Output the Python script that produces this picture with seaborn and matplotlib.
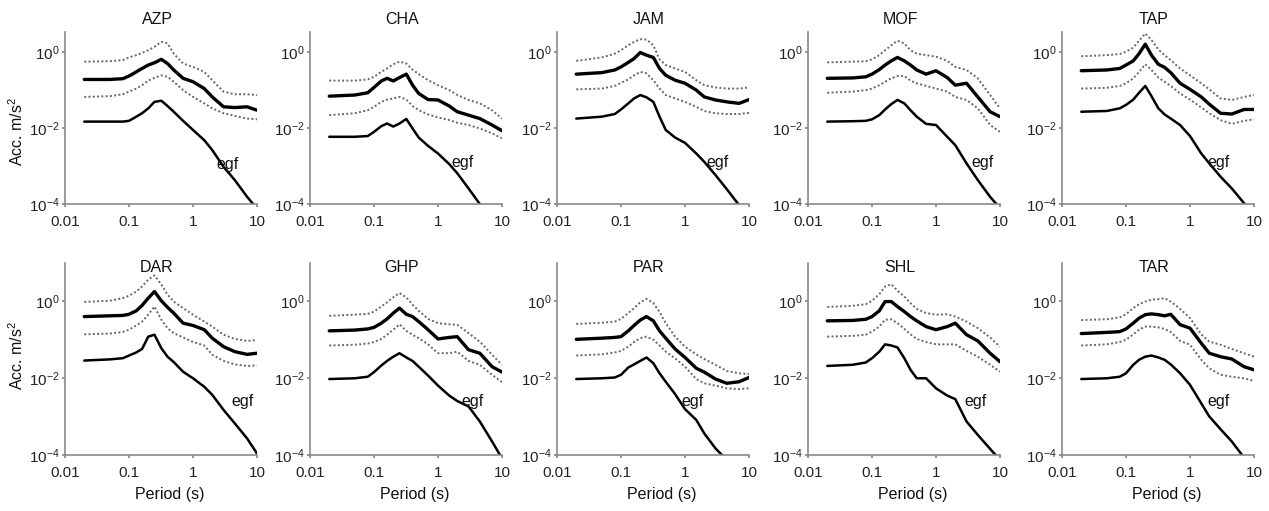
import numpy as np
import matplotlib
matplotlib.use("Agg")
import matplotlib.pyplot as plt
from matplotlib.ticker import NullLocator
import seaborn as sns

PERIOD = [0.02, 0.05, 0.08, 0.1, 0.13, 0.16, 0.2, 0.25, 0.32, 0.4, 0.5,
          0.7, 1.0, 1.5, 2.0, 3.0, 4.5, 7.0, 10.0]

STATIONS = ["AZP", "CHA", "JAM", "MOF", "TAP", "DAR", "GHP", "PAR", "SHL", "TAR"]

# log10 of spectral acceleration (m/s^2): median, +1 sigma, -1 sigma, egf
AZP_MED = [-0.72, -0.72, -0.70, -0.63, -0.52, -0.43, -0.34, -0.28, -0.19, -0.30, -0.47, -0.69, -0.78, -0.96, -1.18, -1.44, -1.46, -1.44, -1.53]
AZP_HI = [-0.25, -0.24, -0.21, -0.14, -0.08, -0.02, 0.05, 0.14, 0.27, 0.23, -0.04, -0.30, -0.39, -0.52, -0.74, -1.04, -1.11, -1.11, -1.13]
AZP_LO = [-1.18, -1.16, -1.11, -1.04, -0.96, -0.87, -0.75, -0.68, -0.61, -0.65, -0.78, -1.00, -1.18, -1.35, -1.48, -1.61, -1.68, -1.75, -1.77]
AZP_EGF = [-1.83, -1.83, -1.83, -1.81, -1.70, -1.61, -1.48, -1.31, -1.28, -1.42, -1.57, -1.81, -2.05, -2.32, -2.58, -3.02, -3.37, -3.81, -4.12]

CHA_MED = [-1.16, -1.13, -1.07, -0.93, -0.76, -0.69, -0.76, -0.67, -0.58, -0.87, -1.09, -1.25, -1.26, -1.42, -1.57, -1.66, -1.75, -1.92, -2.07]
CHA_HI = [-0.75, -0.75, -0.72, -0.65, -0.52, -0.43, -0.32, -0.25, -0.30, -0.46, -0.58, -0.74, -0.87, -1.00, -1.13, -1.26, -1.35, -1.53, -1.75]
CHA_LO = [-1.66, -1.61, -1.53, -1.44, -1.31, -1.25, -1.22, -1.18, -1.25, -1.42, -1.53, -1.64, -1.72, -1.79, -1.86, -1.92, -2.01, -2.14, -2.27]
CHA_EGF = [-2.23, -2.23, -2.21, -2.10, -1.95, -1.88, -1.96, -1.88, -1.76, -2.01, -2.25, -2.47, -2.67, -2.95, -3.19, -3.59, -4.00, -4.42, -4.77]

JAM_MED = [-0.58, -0.54, -0.47, -0.39, -0.27, -0.17, -0.01, -0.08, -0.14, -0.43, -0.61, -0.74, -0.82, -1.00, -1.18, -1.26, -1.31, -1.35, -1.25]
JAM_HI = [-0.23, -0.14, -0.04, 0.05, 0.18, 0.27, 0.34, 0.33, 0.18, -0.19, -0.34, -0.43, -0.52, -0.74, -0.87, -0.93, -0.96, -0.96, -0.93]
JAM_LO = [-0.98, -0.96, -0.89, -0.81, -0.72, -0.61, -0.52, -0.56, -0.74, -0.96, -1.13, -1.22, -1.31, -1.44, -1.55, -1.61, -1.63, -1.63, -1.60]
JAM_EGF = [-1.75, -1.70, -1.63, -1.51, -1.35, -1.22, -1.13, -1.19, -1.31, -1.70, -2.05, -2.25, -2.39, -2.67, -2.89, -3.24, -3.61, -4.03, -4.33]

MOF_MED = [-0.69, -0.68, -0.65, -0.58, -0.46, -0.34, -0.23, -0.14, -0.23, -0.34, -0.47, -0.58, -0.49, -0.67, -0.87, -0.82, -1.18, -1.57, -1.70]
MOF_HI = [-0.27, -0.25, -0.24, -0.19, -0.08, 0.05, 0.18, 0.30, 0.23, 0.05, -0.04, -0.08, -0.12, -0.23, -0.39, -0.47, -0.69, -1.13, -1.48]
MOF_LO = [-1.07, -1.04, -1.00, -0.96, -0.87, -0.78, -0.69, -0.63, -0.63, -0.75, -0.82, -0.89, -0.96, -1.04, -1.18, -1.26, -1.48, -1.92, -2.10]
MOF_EGF = [-1.83, -1.82, -1.81, -1.77, -1.66, -1.51, -1.37, -1.26, -1.35, -1.53, -1.70, -1.89, -1.92, -2.23, -2.45, -2.93, -3.37, -3.81, -4.11]

TAP_MED = [-0.49, -0.47, -0.43, -0.34, -0.23, -0.04, 0.21, -0.08, -0.32, -0.40, -0.54, -0.82, -0.98, -1.18, -1.37, -1.61, -1.63, -1.51, -1.51]
TAP_HI = [-0.11, -0.08, -0.05, 0.01, 0.12, 0.30, 0.49, 0.32, 0.07, -0.08, -0.21, -0.43, -0.61, -0.82, -0.98, -1.22, -1.26, -1.18, -1.13]
TAP_LO = [-0.96, -0.94, -0.89, -0.82, -0.69, -0.52, -0.32, -0.47, -0.67, -0.78, -0.89, -1.09, -1.25, -1.46, -1.61, -1.79, -1.89, -1.81, -1.77]
TAP_EGF = [-1.57, -1.55, -1.48, -1.39, -1.25, -1.07, -0.89, -1.16, -1.48, -1.64, -1.75, -1.92, -2.21, -2.67, -2.93, -3.28, -3.59, -3.98, -4.25]

DAR_MED = [-0.41, -0.39, -0.38, -0.35, -0.26, -0.12, 0.07, 0.24, 0.00, -0.17, -0.32, -0.58, -0.64, -0.75, -0.97, -1.19, -1.32, -1.39, -1.36]
DAR_HI = [-0.03, 0.00, 0.07, 0.13, 0.24, 0.37, 0.55, 0.66, 0.42, 0.16, -0.02, -0.19, -0.36, -0.54, -0.67, -0.88, -0.99, -1.04, -1.02]
DAR_LO = [-0.87, -0.85, -0.81, -0.75, -0.64, -0.54, -0.36, -0.15, -0.49, -0.71, -0.84, -0.95, -1.07, -1.16, -1.40, -1.56, -1.65, -1.69, -1.68]
DAR_EGF = [-1.55, -1.52, -1.49, -1.42, -1.34, -1.25, -0.93, -0.88, -1.23, -1.45, -1.59, -1.84, -2.01, -2.23, -2.44, -2.83, -3.18, -3.57, -3.96]

GHP_MED = [-0.78, -0.76, -0.73, -0.69, -0.58, -0.47, -0.32, -0.19, -0.35, -0.41, -0.54, -0.75, -0.99, -0.95, -0.93, -1.27, -1.36, -1.71, -1.85]
GHP_HI = [-0.39, -0.36, -0.34, -0.28, -0.15, -0.04, 0.09, 0.20, 0.09, -0.10, -0.26, -0.47, -0.58, -0.61, -0.62, -0.84, -1.06, -1.40, -1.66]
GHP_LO = [-1.16, -1.14, -1.11, -1.07, -0.99, -0.88, -0.75, -0.61, -0.78, -0.88, -0.97, -1.13, -1.36, -1.36, -1.32, -1.56, -1.66, -1.92, -2.11]
GHP_EGF = [-2.03, -2.01, -1.97, -1.85, -1.68, -1.56, -1.45, -1.36, -1.47, -1.56, -1.71, -1.94, -2.20, -2.46, -2.60, -2.74, -3.13, -3.65, -4.09]

PAR_MED = [-1.00, -0.97, -0.95, -0.93, -0.78, -0.64, -0.50, -0.41, -0.52, -0.78, -0.97, -1.25, -1.47, -1.75, -1.85, -2.03, -2.14, -2.10, -1.99]
PAR_HI = [-0.60, -0.57, -0.54, -0.47, -0.32, -0.19, -0.04, 0.05, -0.06, -0.29, -0.58, -0.93, -1.19, -1.39, -1.51, -1.66, -1.82, -1.88, -1.90]
PAR_LO = [-1.42, -1.39, -1.34, -1.30, -1.19, -1.07, -0.97, -0.93, -1.01, -1.16, -1.32, -1.49, -1.71, -2.03, -2.14, -2.20, -2.27, -2.29, -2.27]
PAR_EGF = [-2.03, -2.01, -1.99, -1.92, -1.73, -1.65, -1.56, -1.47, -1.62, -1.88, -2.10, -2.42, -2.81, -3.09, -3.44, -3.83, -4.13, -4.52, -4.87]

SHL_MED = [-0.52, -0.51, -0.48, -0.41, -0.26, -0.02, -0.02, -0.15, -0.28, -0.41, -0.52, -0.67, -0.75, -0.67, -0.58, -0.88, -1.04, -1.36, -1.58]
SHL_HI = [-0.16, -0.13, -0.09, 0.00, 0.17, 0.37, 0.43, 0.26, 0.11, -0.06, -0.21, -0.32, -0.36, -0.35, -0.41, -0.54, -0.71, -0.95, -1.19]
SHL_LO = [-0.93, -0.91, -0.88, -0.80, -0.67, -0.49, -0.48, -0.58, -0.73, -0.87, -0.99, -1.07, -1.13, -1.13, -1.13, -1.30, -1.45, -1.66, -1.84]
SHL_EGF = [-1.69, -1.66, -1.60, -1.49, -1.32, -1.13, -1.16, -1.21, -1.49, -1.79, -2.01, -2.01, -2.27, -2.46, -2.55, -3.13, -3.48, -3.84, -4.13]

TAR_MED = [-0.85, -0.82, -0.80, -0.73, -0.58, -0.45, -0.36, -0.34, -0.36, -0.39, -0.35, -0.62, -0.71, -1.10, -1.36, -1.45, -1.51, -1.71, -1.79]
TAR_HI = [-0.50, -0.48, -0.43, -0.35, -0.19, -0.09, -0.02, 0.03, 0.04, 0.07, -0.02, -0.21, -0.45, -0.87, -1.06, -1.14, -1.25, -1.36, -1.45]
TAR_LO = [-1.16, -1.13, -1.07, -1.01, -0.87, -0.75, -0.67, -0.67, -0.69, -0.73, -0.81, -1.04, -1.14, -1.53, -1.75, -1.92, -1.97, -2.01, -2.08]
TAR_EGF = [-2.03, -2.01, -1.97, -1.88, -1.66, -1.53, -1.45, -1.42, -1.47, -1.53, -1.65, -1.88, -2.18, -2.66, -3.00, -3.33, -3.65, -4.07, -4.35]

MEDIAN = [AZP_MED, CHA_MED, JAM_MED, MOF_MED, TAP_MED, DAR_MED, GHP_MED, PAR_MED, SHL_MED, TAR_MED]
UPPER = [AZP_HI, CHA_HI, JAM_HI, MOF_HI, TAP_HI, DAR_HI, GHP_HI, PAR_HI, SHL_HI, TAR_HI]
LOWER = [AZP_LO, CHA_LO, JAM_LO, MOF_LO, TAP_LO, DAR_LO, GHP_LO, PAR_LO, SHL_LO, TAR_LO]
EGF = [AZP_EGF, CHA_EGF, JAM_EGF, MOF_EGF, TAP_EGF, DAR_EGF, GHP_EGF, PAR_EGF, SHL_EGF, TAR_EGF]

# where the "egf" tag sits (period, log10 acc)
EGF_TAG_T = [3.4, 2.45, 3.2, 5.4, 2.75, 6.0, 3.4, 1.3, 4.1, 2.75]
EGF_TAG_A = [-2.97, -2.92, -2.92, -2.92, -2.92, -2.62, -2.62, -2.62, -2.62, -2.62]

XTICKS = [0.01, 0.1, 1, 10]
XTICKLABELS = ["0.01", "0.1", "1", "10"]
YTICKS = [1e-4, 1e-2, 1e0]
YTICKLABELS = ["$10^{-4}$", "$10^{-2}$", "$10^{0}$"]

sns.set_theme(style="white")
plt.rcParams["font.family"] = ["Liberation Sans", "DejaVu Sans"]
plt.rcParams["mathtext.default"] = "regular"

W, H = 1269, 511
fig = plt.figure(figsize=(W / 100, H / 100), dpi=100)
lefts = [65, 310, 557, 808, 1062]
# (top px, bottom px, upper y limit, title y px)
rows = [(32, 204, 10 ** 0.53, 20), (263, 455, 10 ** 0.98, 268)]
fs = 11.5

for i, name in enumerate(STATIONS):
    r, c = divmod(i, 5)
    top, bot, ymax, ty = rows[r]
    ax = fig.add_axes([lefts[c] / W, 1 - bot / H, 192 / W, (bot - top) / H])
    ax.set_xscale("log")
    ax.set_yscale("log")

    # +/- sigma bounds (dotted), median (thick) and the egf spectrum
    sns.lineplot(x=PERIOD, y=np.power(10.0, UPPER[i]), ax=ax, color="#666666",
                 lw=1.4, linestyle=(0, (1, 1.2)))
    sns.lineplot(x=PERIOD, y=np.power(10.0, LOWER[i]), ax=ax, color="#666666",
                 lw=1.4, linestyle=(0, (1, 1.2)))
    sns.lineplot(x=PERIOD, y=np.power(10.0, MEDIAN[i]), ax=ax, color="black", lw=2.4)
    sns.lineplot(x=PERIOD, y=np.power(10.0, EGF[i]), ax=ax, color="black", lw=1.8)

    ax.text(EGF_TAG_T[i], 10 ** EGF_TAG_A[i], "egf", ha="center", va="center",
            fontsize=fs, color="#111111")

    ax.set_xlim(0.01, 10)
    ax.set_ylim(1e-4, ymax)
    ax.set_xticks(XTICKS)
    ax.set_xticklabels(XTICKLABELS)
    ax.set_yticks(YTICKS)
    ax.set_yticklabels(YTICKLABELS)
    ax.xaxis.set_minor_locator(NullLocator())
    ax.yaxis.set_minor_locator(NullLocator())
    ax.tick_params(axis="both", labelsize=11, length=2, colors="#222222",
                   bottom=True, left=True)
    ax.tick_params(axis="x", pad=6)
    ax.tick_params(axis="y", pad=2)
    ax.tick_params(axis="both", color="#888888")
    sns.despine(ax=ax)
    for side in ["left", "bottom"]:
        ax.spines[side].set_color("#8a8a8a")
        ax.spines[side].set_linewidth(1.2)
    ax.set_xlabel("")
    ax.set_ylabel("")

    cx = lefts[c] + 92
    fig.text(cx / W, 1 - ty / H, name, ha="center", va="center", fontsize=fs,
             color="#111111")
    if r == 1:
        fig.text((lefts[c] + 105) / W, 1 - 494 / H, "Period (s)", ha="center",
                 va="center", fontsize=fs, color="#111111")
    if c == 0:
        fig.text(17 / W, 1 - (131 if r == 0 else 355) / H, "Acc. m/s$^2$",
                 rotation=90, ha="center", va="center", fontsize=fs, color="#111111")

fig.savefig("out.png", dpi=100)
